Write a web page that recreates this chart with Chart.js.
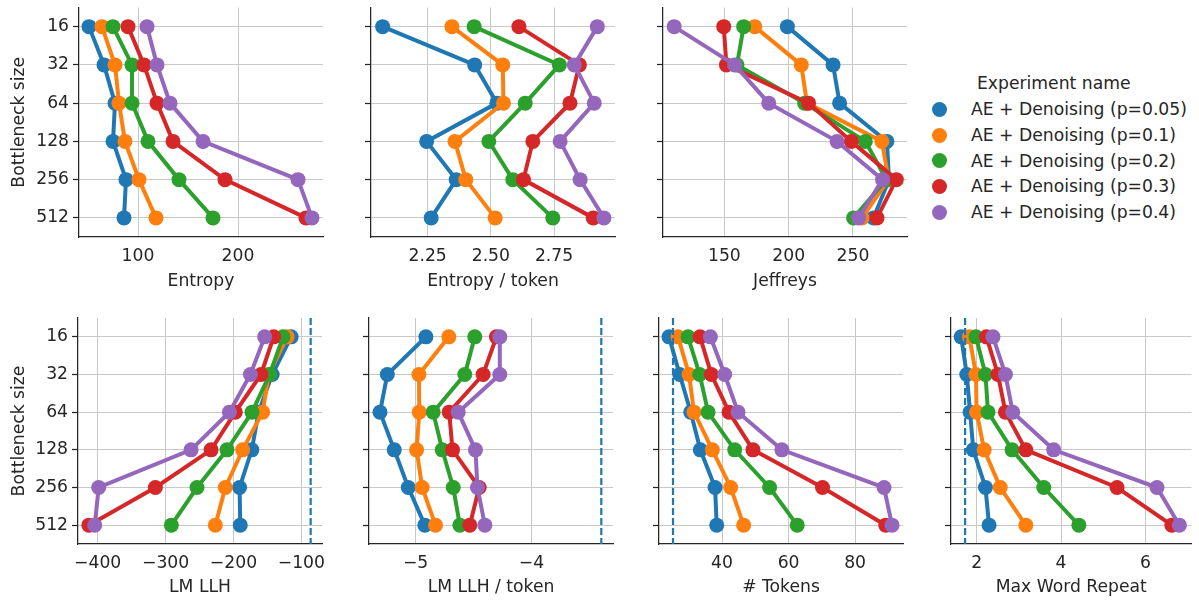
<!DOCTYPE html>
<html>
<head>
<meta charset="utf-8">
<script src="https://cdn.jsdelivr.net/npm/chart.js@4/dist/chart.umd.min.js"></script>
<style>
  body { margin: 0; background: #fff; width: 1199px; height: 601px; position: relative; overflow: hidden;
         font-family: "DejaVu Sans", sans-serif; color: #262626; }
  canvas { position: absolute; }
  .lg { position: absolute; font-size: 17.2px; line-height: 20px; white-space: nowrap; }
  .dot { position: absolute; width: 15px; height: 15px; border-radius: 50%; }
</style>
</head>
<body>
<div id="legend"></div>
<script>
// categories and series
var bottleneckSizes = ['16', '32', '64', '128', '256', '512'];
var experimentNames = ['AE + Denoising (p=0.05)', 'AE + Denoising (p=0.1)', 'AE + Denoising (p=0.2)',
  'AE + Denoising (p=0.3)', 'AE + Denoising (p=0.4)'];

// one row per experiment, one value per bottleneck size
var entropy = [
  [51, 66, 77, 75, 88, 86],
  [64, 77, 81, 87, 101, 118],
  [75, 94, 94, 110, 141, 175],
  [90, 106, 119, 135, 187, 268],
  [109, 119, 132, 165, 260, 274]
];
var entropyPerToken = [
  [2.072, 2.436, 2.524, 2.246, 2.363, 2.264],
  [2.346, 2.547, 2.550, 2.358, 2.401, 2.517],
  [2.434, 2.771, 2.636, 2.492, 2.587, 2.745],
  [2.611, 2.850, 2.813, 2.666, 2.629, 2.905],
  [2.921, 2.830, 2.909, 2.774, 2.853, 2.947]
];
var jeffreys = [
  [199, 234.5, 239.6, 276.4, 278, 266],
  [173.6, 209.8, 214.2, 272.5, 277.7, 257],
  [165, 159.8, 212.4, 259.6, 276, 250.5],
  [149.5, 151.6, 215.5, 248.7, 283.7, 268.7],
  [111, 158, 184.5, 237.6, 273, 254.4]
];
var lmLlh = [
  [-115, -143, -163, -173, -191, -190],
  [-121, -148, -157, -186.5, -212, -226.7],
  [-127, -146.7, -172.7, -209.5, -253.7, -291.5],
  [-140.8, -159.5, -197.3, -233, -315, -413],
  [-154, -175, -206, -262.5, -398.5, -404.4]
];
var lmLlhPerToken = [
  [-4.911, -5.244, -5.307, -5.184, -5.063, -4.920],
  [-4.713, -4.971, -4.968, -4.991, -4.943, -4.828],
  [-4.489, -4.575, -4.848, -4.770, -4.675, -4.618],
  [-4.302, -4.417, -4.710, -4.681, -4.451, -4.532],
  [-4.273, -4.273, -4.632, -4.483, -4.466, -4.402]
];
var numTokens = [
  [24.06, 27.27, 30.58, 33.48, 37.9, 38.4],
  [26.77, 30.08, 31.58, 37.1, 42.6, 46.5],
  [29.77, 33.28, 35.8, 43.8, 54.3, 62.6],
  [33.4, 36.8, 42.1, 49.3, 70.2, 89.2],
  [36.5, 40.8, 44.8, 58, 88.7, 91.1]
];
var maxWordRepeat = [
  [1.635, 1.767, 1.845, 1.922, 2.21, 2.295],
  [1.83, 1.984, 2.0, 2.18, 2.56, 3.165],
  [1.984, 2.21, 2.27, 2.84, 3.59, 4.42],
  [2.233, 2.505, 2.683, 3.165, 5.324, 6.62],
  [2.388, 2.683, 2.854, 3.825, 6.27, 6.8]
];

// reference (dashed) values
var lmLlhRef = -86.3;
var lmLlhPerTokenRef = -3.397;
var numTokensRef = 25.26;
var maxWordRepeatRef = 1.728;

// tick labels
var entropyTicks = [100, 200];
var entropyPerTokenTicks = [2.25, 2.50, 2.75];
var jeffreysTicks = [150, 200, 250];
var lmLlhTicks = [-400, -300, -200, -100];
var lmLlhPerTokenTicks = [-5, -4];
var numTokensTicks = [40, 60, 80];
var maxWordRepeatTicks = [2, 4, 6];

var colors = ['#1f77b4', '#ff7f0e', '#2ca02c', '#d62728', '#9467bd'];

var FONT_SIZE = 17.2;
Chart.defaults.font.family = '"DejaVu Sans", sans-serif';
Chart.defaults.font.size = FONT_SIZE;
Chart.defaults.color = '#262626';

// dashed vertical reference line
var refLinePlugin = {
  id: 'refLine',
  afterDatasetsDraw: function (chart, args, opts) {
    if (opts.value == null) return;
    var ctx = chart.ctx;
    var x = chart.scales.x.getPixelForValue(opts.value);
    var area = chart.chartArea;
    ctx.save();
    ctx.strokeStyle = '#1f77b4';
    ctx.lineWidth = 2.2;
    ctx.setLineDash([7, 3]);
    ctx.beginPath();
    ctx.moveTo(x, area.top);
    ctx.lineTo(x, area.bottom);
    ctx.stroke();
    ctx.restore();
  }
};

// area: [left, top, right, bottom] of the plot box; box: [left, top, width, height] of the canvas
var panels = [
  { data: entropy, title: 'Entropy', ticks: entropyTicks, range: [41, 285], dec: 0,
    area: [79, 7, 323, 237], box: [0, 0, 345, 300], yLabels: true },
  { data: entropyPerToken, title: 'Entropy / token', ticks: entropyPerTokenTicks, range: [2.026, 2.991], dec: 2,
    area: [371, 7, 615, 237], box: [361, 0, 275, 300] },
  { data: jeffreys, title: 'Jeffreys', ticks: jeffreysTicks, range: [102.3, 292], dec: 0,
    area: [663, 7, 907, 237], box: [653, 0, 275, 300] },
  { data: lmLlh, title: 'LM LLH', ticks: lmLlhTicks, range: [-429, -69.6], dec: 0, ref: lmLlhRef,
    area: [78, 318, 322, 544], box: [0, 300, 345, 301], yLabels: true },
  { data: lmLlhPerToken, title: 'LM LLH / token', ticks: lmLlhPerTokenTicks, range: [-5.402, -3.296], dec: 0, ref: lmLlhPerTokenRef,
    area: [369, 318, 613, 544], box: [359, 300, 275, 301] },
  { data: numTokens, title: '# Tokens', ticks: numTokensTicks, range: [21.05, 94.4], dec: 0, ref: numTokensRef,
    area: [659, 318, 903, 544], box: [649, 300, 275, 301] },
  { data: maxWordRepeat, title: 'Max Word Repeat', ticks: maxWordRepeatTicks, range: [1.394, 7.087], dec: 0, ref: maxWordRepeatRef,
    area: [951, 318, 1195, 544], box: [941, 300, 258, 301] }
];

function fmt(v, dec) {
  return v.toFixed(dec).replace('-', '\u2212');
}

panels.forEach(function (p) {
  var cv = document.createElement('canvas');
  cv.width = p.box[2];
  cv.height = p.box[3];
  cv.style.left = p.box[0] + 'px';
  cv.style.top = p.box[1] + 'px';
  document.body.appendChild(cv);

  var yW = p.area[0] - p.box[0];
  var xH = p.box[1] + p.box[3] - p.area[3];
  var rowBottom = p.box[1] + p.box[3];
  var titleCenter = p.box[1] === 0 ? 281.7 : 587.3;
  var halfLine = FONT_SIZE * 1.2 / 2;

  new Chart(cv.getContext('2d'), {
    type: 'line',
    data: {
      labels: bottleneckSizes,
      datasets: p.data.map(function (vals, i) {
        return {
          label: experimentNames[i],
          data: vals,
          borderColor: colors[i],
          backgroundColor: colors[i],
          pointBackgroundColor: colors[i],
          pointBorderWidth: 0,
          pointRadius: 7.5,
          borderWidth: 4,
          tension: 0,
          clip: 12,
          order: 4 - i
        };
      })
    },
    options: {
      indexAxis: 'y',
      responsive: false,
      animation: false,
      layout: { padding: { top: p.area[1] - p.box[1], right: p.box[0] + p.box[2] - p.area[2], left: 0, bottom: 0 } },
      plugins: {
        legend: { display: false },
        tooltip: { enabled: false },
        refLine: { value: p.ref }
      },
      scales: {
        x: {
          type: 'linear',
          min: p.range[0],
          max: p.range[1],
          afterBuildTicks: function (s) { s.ticks = p.ticks.map(function (v) { return { value: v }; }); },
          afterFit: function (s) { s.height = xH; s.paddingLeft = 0; s.paddingRight = 0; },
          ticks: { padding: 9, maxRotation: 0, callback: function (v) { return fmt(v, p.dec); } },
          grid: { color: '#c8c8c8', lineWidth: 1, drawTicks: false },
          border: { color: '#262626', width: 1.25 },
          title: { display: true, text: p.title, padding: { top: 0, bottom: rowBottom - titleCenter - halfLine } }
        },
        y: {
          type: 'category',
          offset: true,
          afterFit: function (s) { s.width = yW; s.paddingTop = 0; s.paddingBottom = 0; },
          ticks: { display: !!p.yLabels, padding: 4 },
          grid: { offset: false, color: '#c8c8c8', lineWidth: 1, drawTicks: true, tickLength: 6,
                  tickColor: '#262626', tickWidth: 1.25 },
          border: { color: '#262626', width: 1.25 },
          title: { display: !!p.yLabels, text: 'Bottleneck size', padding: { top: 20 - halfLine, bottom: 0 } }
        }
      }
    },
    plugins: [refLinePlugin]
  });
});

// legend
var lg = document.getElementById('legend');
var t = document.createElement('div');
t.className = 'lg';
t.textContent = 'Experiment name';
t.style.left = '977px';
t.style.top = '73px';
lg.appendChild(t);
var itemY = [109.3, 135, 160.7, 186, 212.3];
experimentNames.forEach(function (name, i) {
  var d = document.createElement('div');
  d.className = 'dot';
  d.style.background = colors[i];
  d.style.left = (939 - 7.5) + 'px';
  d.style.top = (itemY[i] - 7.5) + 'px';
  lg.appendChild(d);
  var s = document.createElement('div');
  s.className = 'lg';
  s.textContent = name;
  s.style.left = '971px';
  s.style.top = (itemY[i] - 10) + 'px';
  lg.appendChild(s);
});
</script>
</body>
</html>
